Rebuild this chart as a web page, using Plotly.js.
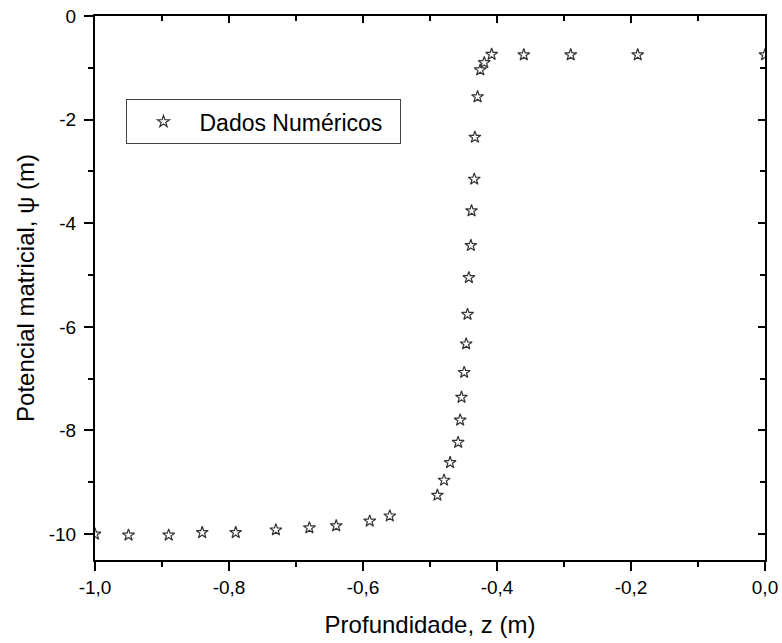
<!DOCTYPE html>
<html>
<head>
<meta charset="utf-8">
<script src="https://cdn.plot.ly/plotly-3.0.1.min.js"></script>
<style>
  html, body { margin: 0; padding: 0; background: #fff; }
  #chart { width: 782px; height: 643px; }
</style>
</head>
<body>
<div id="chart"></div>
<script>
// Profundidade z (m)
const depth = [
  -1.00, -0.95, -0.89, -0.84, -0.79, -0.73, -0.68, -0.64, -0.59, -0.56,
  -0.489, -0.479, -0.470, -0.458, -0.455, -0.453, -0.449, -0.446, -0.444,
  -0.442, -0.439, -0.438, -0.434, -0.433, -0.429, -0.425, -0.419, -0.408,
  -0.36, -0.29, -0.19, 0.00
];
// Potencial matricial psi (m)
const psi = [
  -10.00, -10.02, -10.02, -9.97, -9.97, -9.92, -9.88, -9.84, -9.75, -9.65,
  -9.25, -8.96, -8.62, -8.23, -7.80, -7.36, -6.88, -6.33, -5.76,
  -5.05, -4.43, -3.76, -3.15, -2.34, -1.56, -1.04, -0.90, -0.74,
  -0.75, -0.75, -0.75, -0.75
];

const xTickVals = [-1.0, -0.8, -0.6, -0.4, -0.2, 0.0];
const xTickText = ['-1,0', '-0,8', '-0,6', '-0,4', '-0,2', '0,0'];
const yTickVals = [0, -2, -4, -6, -8, -10];
const yTickText = ['0', '-2', '-4', '-6', '-8', '-10'];

const FONT = '"Liberation Sans", Arial, sans-serif';
const xRange = [-1.0, 0.0];
const yRange = [-10.5, 0.0];

const traces = [
  {
    type: 'scatter',
    mode: 'markers',
    // trailing no-break spaces leave some room at the right of the legend box
    name: 'Dados Numéricos\u00a0\u00a0',
    x: depth,
    y: psi,
    marker: {
      symbol: 'star-open',
      size: 9,
      color: '#333',
      line: { width: 1.2, color: '#333' }
    }
  },
  // empty traces so the mirrored top / right frame axes get their own subplots
  { type: 'scatter', x: [], y: [], xaxis: 'x2', yaxis: 'y', showlegend: false, hoverinfo: 'skip' },
  { type: 'scatter', x: [], y: [], xaxis: 'x', yaxis: 'y2', showlegend: false, hoverinfo: 'skip' }
];

const baseAxis = {
  showline: true,
  linecolor: '#000',
  linewidth: 2,
  showgrid: false,
  zeroline: false,
  tickcolor: '#000',
  tickwidth: 2,
  ticklen: 9,
  tickmode: 'array',
  tickfont: { family: FONT, size: 19, color: '#000' }
};

const layout = {
  width: 782,
  height: 643,
  margin: { l: 95, r: 17, t: 16, b: 83 },
  paper_bgcolor: '#fff',
  plot_bgcolor: '#fff',
  font: { family: FONT, color: '#000' },
  showlegend: true,
  legend: {
    x: 0.047, y: 0.847,
    xanchor: 'left', yanchor: 'top',
    bgcolor: '#fff',
    bordercolor: '#444',
    borderwidth: 1,
    itemwidth: 62,
    font: { family: FONT, size: 23, color: '#000' }
  },
  xaxis: Object.assign({}, baseAxis, {
    range: xRange,
    ticks: 'outside',
    tickvals: xTickVals,
    ticktext: xTickText,
    minor: { ticks: 'outside', dtick: 0.1, ticklen: 5, tickwidth: 2, tickcolor: '#000' },
    title: { text: 'Profundidade, z (m)', font: { family: FONT, size: 24, color: '#000' }, standoff: 19 }
  }),
  yaxis: Object.assign({}, baseAxis, {
    range: yRange,
    ticks: 'outside',
    ticklabelstandoff: 4,
    tickvals: yTickVals,
    ticktext: yTickText,
    minor: { ticks: 'outside', dtick: 1, ticklen: 5, tickwidth: 2, tickcolor: '#000' },
    title: { text: 'Potencial matricial, ψ (m)', font: { family: FONT, size: 24, color: '#000' }, standoff: 7 }
  }),
  xaxis2: Object.assign({}, baseAxis, {
    range: xRange,
    overlaying: 'x',
    anchor: 'y',
    side: 'top',
    ticks: 'inside',
    ticklen: 7,
    tickvals: xTickVals,
    showticklabels: false,
    minor: { ticks: 'inside', dtick: 0.1, ticklen: 5, tickwidth: 2, tickcolor: '#000' }
  }),
  yaxis2: Object.assign({}, baseAxis, {
    range: yRange,
    overlaying: 'y',
    anchor: 'x',
    side: 'right',
    ticks: 'inside',
    ticklen: 7,
    tickvals: yTickVals,
    showticklabels: false,
    minor: { ticks: 'inside', dtick: 1, ticklen: 5, tickwidth: 2, tickcolor: '#000' }
  })
};

Plotly.newPlot('chart', traces, layout, { displayModeBar: false, staticPlot: true });
</script>
</body>
</html>
